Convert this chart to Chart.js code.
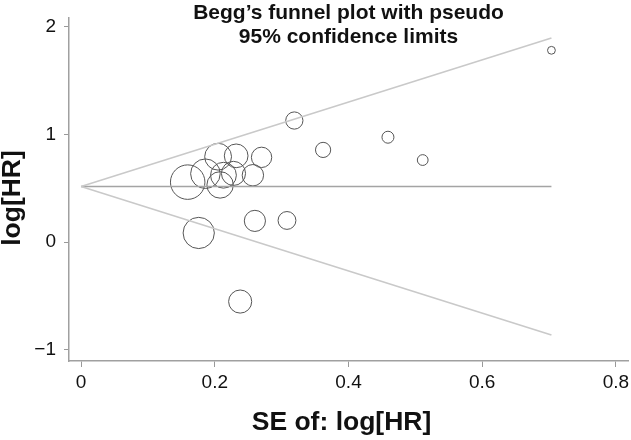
<!DOCTYPE html>
<html>
<head>
<meta charset="utf-8">
<script src="https://cdn.jsdelivr.net/npm/chart.js@4.4.0/dist/chart.umd.min.js"></script>
<style>
  html, body { margin: 0; padding: 0; background: #fff; }
  #wrap { width: 631px; height: 440px; }
</style>
</head>
<body>
<div id="wrap"><canvas id="canvas" width="631" height="440"></canvas></div>
<script>
// Study values
var seLogHR = [0.1595, 0.176, 0.186, 0.205, 0.208, 0.213, 0.228, 0.232, 0.238, 0.257, 0.26, 0.27, 0.308, 0.319, 0.362, 0.459, 0.511, 0.7035];
var logHR   = [0.556, 0.084, 0.634, 0.792, 0.53, 0.62, 0.637, 0.80, -0.553, 0.62, 0.196, 0.786, 0.20, 1.128, 0.855, 0.973, 0.761, 1.78];

// pooled estimate and pseudo 95% limits
var pooled = 0.515;
var z95 = 1.96;
var maxSE = 0.7035;

var xTicks = [0, 0.2, 0.4, 0.6, 0.8];
var xTickLabels = ['0', '0.2', '0.4', '0.6', '0.8'];
var yTicks = [-1, 0, 1, 2];
var yTickLabels = ['\u22121', '0', '1', '2'];

var titleLines = ['Begg\u2019s funnel plot with pseudo', '95% confidence limits'];
var xTitle = 'SE of: log[HR]';
var yTitle = 'log[HR]';

var points = seLogHR.map(function (s, i) { return { x: s, y: logHR[i] }; });

// marker area follows study weight (1/SE^2)
function markerRadius(ctx) {
    var p = ctx.raw;
    return p ? 2.75 / p.x : 3;
}

var FONT = '"Liberation Sans", Arial, sans-serif';

// title and axis titles, drawn where Stata puts them
var textPlugin = {
    id: 'plotText',
    afterDraw: function (chart) {
        var c = chart.ctx;
        var a = chart.chartArea;
        c.save();
        c.fillStyle = '#111';
        c.textAlign = 'center';
        c.textBaseline = 'middle';
        var cx = (a.left + a.right) / 2;
        c.font = 'bold 21px ' + FONT;
        c.fillText(titleLines[0], cx, 13);
        c.fillText(titleLines[1], cx, 37);

        c.font = 'bold 26.5px ' + FONT;
        c.fillText(xTitle, cx - 7, 423);

        c.translate(13, 198);
        c.rotate(-Math.PI / 2);
        c.fillText(yTitle, 0, 0);
        c.restore();
    }
};

var ctx = document.getElementById('canvas').getContext('2d');
var chart = new Chart(ctx, {
    type: 'scatter',
    data: {
        datasets: [
            {
                type: 'line',
                label: 'upper',
                data: [{ x: 0, y: pooled }, { x: maxSE, y: pooled + z95 * maxSE }],
                borderColor: '#c9c9c9',
                borderWidth: 1.5,
                pointRadius: 0,
                fill: false
            },
            {
                type: 'line',
                label: 'lower',
                data: [{ x: 0, y: pooled }, { x: maxSE, y: pooled - z95 * maxSE }],
                borderColor: '#c9c9c9',
                borderWidth: 1.5,
                pointRadius: 0,
                fill: false
            },
            {
                type: 'line',
                label: 'pooled',
                data: [{ x: 0, y: pooled }, { x: maxSE, y: pooled }],
                borderColor: '#a4a4a4',
                borderWidth: 1.5,
                pointRadius: 0,
                fill: false
            },
            {
                label: 'studies',
                data: points,
                pointStyle: 'circle',
                pointRadius: markerRadius,
                pointHoverRadius: markerRadius,
                backgroundColor: 'rgba(0,0,0,0)',
                borderColor: '#555',
                borderWidth: 1
            }
        ]
    },
    plugins: [textPlugin],
    options: {
        responsive: false,
        animation: false,
        layout: { autoPadding: false, padding: { top: 18, right: 3, left: 0, bottom: 0 } },
        plugins: {
            legend: { display: false },
            tooltip: { enabled: false }
        },
        scales: {
            x: {
                type: 'linear',
                min: -0.018,
                max: 0.818,
                afterBuildTicks: function (scale) {
                    scale.ticks = xTicks.map(function (v) { return { value: v }; });
                },
                afterFit: function (scale) {
                    scale.height = 79;
                    scale.paddingLeft = 0;
                    scale.paddingRight = 0;
                },
                ticks: {
                    color: '#111',
                    font: { family: FONT, size: 19 },
                    padding: 4,
                    maxRotation: 0,
                    callback: function (v) { return xTickLabels[xTicks.indexOf(v)]; }
                },
                grid: { drawOnChartArea: false, drawTicks: true, tickLength: 6, color: '#999', lineWidth: 1 },
                border: { display: true, color: '#a0a0a0', width: 1.5 }
            },
            y: {
                type: 'linear',
                min: -1.105,
                max: 2.08,
                afterBuildTicks: function (scale) {
                    scale.ticks = yTicks.map(function (v) { return { value: v }; });
                },
                afterFit: function (scale) {
                    scale.width = 69;
                    scale.paddingTop = 0;
                    scale.paddingBottom = 0;
                },
                ticks: {
                    color: '#111',
                    font: { family: FONT, size: 19 },
                    padding: 8,
                    callback: function (v) { return yTickLabels[yTicks.indexOf(v)]; }
                },
                grid: { drawOnChartArea: false, drawTicks: true, tickLength: 5, color: '#999', lineWidth: 1 },
                border: { display: true, color: '#a0a0a0', width: 1.5 }
            }
        }
    }
});
</script>
</body>
</html>
